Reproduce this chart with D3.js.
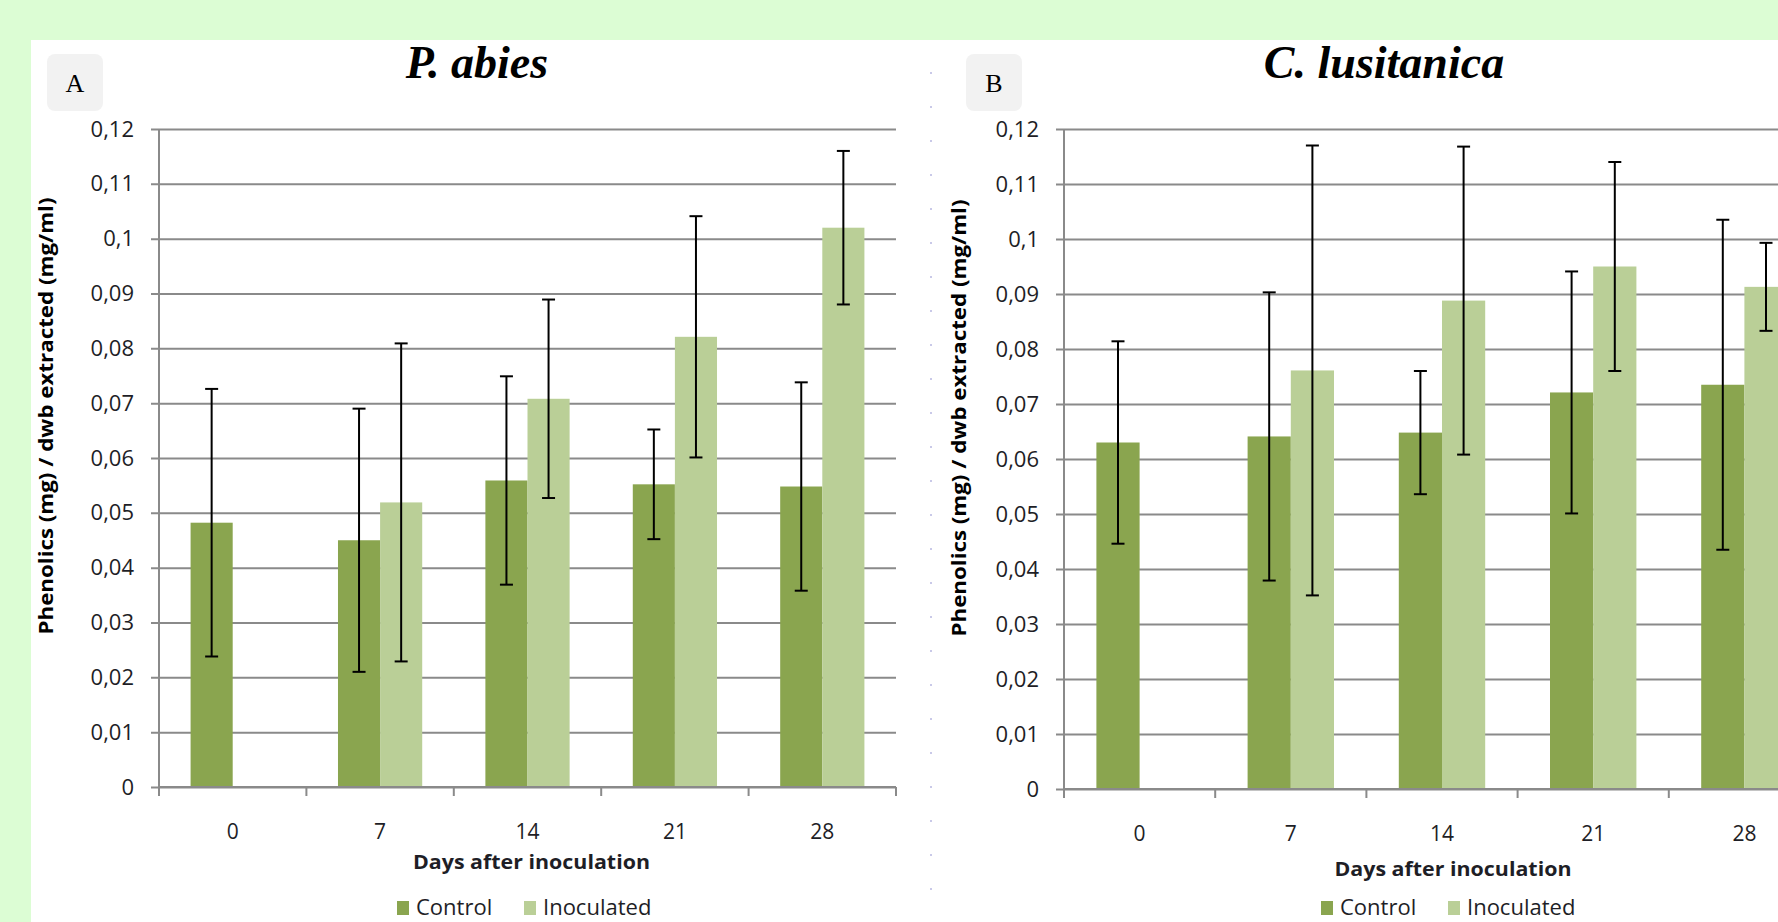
<!DOCTYPE html>
<html><head><meta charset="utf-8">
<script src="https://cdn.jsdelivr.net/npm/d3@7"></script>
<style>html,body{margin:0;padding:0;background:#dcfdd4;overflow:hidden}</style>
</head><body>
<svg id="chart" width="1778" height="922"></svg>
<script>
// ---- data ----
const days = ["0", "7", "14", "21", "28"];
const seriesNames = ["Control", "Inoculated"];
const yTicks = [0, 0.01, 0.02, 0.03, 0.04, 0.05, 0.06, 0.07, 0.08, 0.09, 0.10, 0.11, 0.12];
const yTickLabels = ["0", "0,01", "0,02", "0,03", "0,04", "0,05", "0,06", "0,07", "0,08", "0,09", "0,1", "0,11", "0,12"];
const abiesControl = [0.0482, 0.0450, 0.0559, 0.0552, 0.0548];
const abiesControlErr = [0.0244, 0.0240, 0.0190, 0.0100, 0.0190];
const abiesInoculated = [null, 0.0519, 0.0708, 0.0821, 0.1020];
const abiesInoculatedErr = [null, 0.0290, 0.0181, 0.0220, 0.0140];
const lusControl = [0.0630, 0.0641, 0.0648, 0.0721, 0.0735];
const lusControlErr = [0.0184, 0.0262, 0.0112, 0.0220, 0.0300];
const lusInoculated = [null, 0.0761, 0.0888, 0.0950, 0.0913];
const lusInoculatedErr = [null, 0.0409, 0.0280, 0.0190, 0.0080];
const panelTitles = ["P. abies", "C. lusitanica"];
const panelLetters = ["A", "B"];
const xTitle = "Days after inoculation";
const yTitle = "Phenolics (mg) / dwb extracted (mg/ml)";

// ---- style ----
const colors = { Control: "#8aa54f", Inoculated: "#bacf97" };
const gridColor = "#8a8a8a";
const textColor = "#1e1e26";
const sansFont = "'Open Sans', 'Noto Sans', sans-serif";
const serifFont = "'Liberation Serif', 'DejaVu Serif', serif";

const svg = d3.select("#chart");
svg.append("rect").attr("x", 0).attr("y", 0).attr("width", 1778).attr("height", 922).attr("fill", "#dcfdd4");
svg.append("rect").attr("x", 31).attr("y", 40).attr("width", 1747).attr("height", 882).attr("fill", "#ffffff");

// faint dotted separator
svg.append("line").attr("x1", 931).attr("x2", 931).attr("y1", 72).attr("y2", 905)
  .attr("stroke", "#c9c9e8").attr("stroke-width", 2).attr("stroke-dasharray", "2,32");

const panels = [
  { left: 159, right: 896, top: 129, bottom: 787, boxX: 47, titleX: 477, yTitleX: 46,
    legendX: 397, control: abiesControl, controlErr: abiesControlErr,
    inoc: abiesInoculated, inocErr: abiesInoculatedErr },
  { left: 1064, right: 1820, top: 129, bottom: 789, boxX: 966, titleX: 1384, yTitleX: 959,
    legendX: 1321, control: lusControl, controlErr: lusControlErr,
    inoc: lusInoculated, inocErr: lusInoculatedErr }
];

panels.forEach((p, pi) => {
  const g = svg.append("g");
  const x = d3.scaleBand().domain(days).range([p.left, p.right]).paddingInner(0).paddingOuter(0);
  const xs = d3.scaleBand().domain(seriesNames).range([0, x.bandwidth()]).paddingInner(0).paddingOuter(0.75);
  const y = d3.scaleLinear().domain([0, 0.12]).range([p.bottom, p.top]);

  // y axis with gridlines
  const yAxis = g.append("g").attr("transform", `translate(${p.left},0)`)
    .call(d3.axisLeft(y).tickValues(yTicks).tickFormat((d, i) => yTickLabels[i])
      .tickSizeInner(-(p.right - p.left)).tickSizeOuter(0).tickPadding(25));
  yAxis.select(".domain").remove();
  yAxis.selectAll(".tick line").attr("x1", -8).attr("stroke", gridColor).attr("stroke-width", 2);
  yAxis.selectAll(".tick text").attr("fill", textColor).attr("font-family", sansFont).attr("font-size", 22);

  // bars
  const rows = days.map((d, i) => [
    { day: d, s: "Control", v: p.control[i], e: p.controlErr[i] },
    { day: d, s: "Inoculated", v: p.inoc[i], e: p.inocErr[i] }
  ]).flat().filter(r => r.v != null);

  g.append("g").selectAll("rect").data(rows).join("rect")
    .attr("x", r => x(r.day) + xs(r.s))
    .attr("width", xs.bandwidth())
    .attr("y", r => y(r.v))
    .attr("height", r => y(0) - y(r.v))
    .attr("fill", r => colors[r.s]);

  // axis lines
  g.append("line").attr("x1", p.left).attr("x2", p.left).attr("y1", y(0.12)).attr("y2", y(0))
    .attr("stroke", gridColor).attr("stroke-width", 2);
  g.append("line").attr("x1", p.left).attr("x2", p.right).attr("y1", y(0)).attr("y2", y(0))
    .attr("stroke", gridColor).attr("stroke-width", 2);
  // x ticks at category boundaries
  const bounds = days.map(d => x(d)).concat([x(days[days.length - 1]) + x.step()]);
  g.append("g").selectAll("line").data(bounds).join("line")
    .attr("x1", b => b).attr("x2", b => b).attr("y1", y(0)).attr("y2", y(0) + 9)
    .attr("stroke", gridColor).attr("stroke-width", 2);

  // x labels
  const xAxis = g.append("g").attr("transform", `translate(0,${y(0)})`)
    .call(d3.axisBottom(x).tickSize(0).tickPadding(37));
  xAxis.select(".domain").remove();
  xAxis.selectAll(".tick text").attr("fill", textColor).attr("font-family", sansFont).attr("font-size", 21);

  // error bars
  const eg = g.append("g").attr("stroke", "#000").attr("stroke-width", 2);
  rows.forEach(r => {
    const cx = x(r.day) + xs(r.s) + xs.bandwidth() / 2;
    const y1 = y(r.v + r.e), y2 = y(r.v - r.e);
    eg.append("line").attr("x1", cx).attr("x2", cx).attr("y1", y1).attr("y2", y2);
    eg.append("line").attr("x1", cx - 6.5).attr("x2", cx + 6.5).attr("y1", y1).attr("y2", y1);
    eg.append("line").attr("x1", cx - 6.5).attr("x2", cx + 6.5).attr("y1", y2).attr("y2", y2);
  });

  // x title
  g.append("text").attr("x", (p.left + Math.min(p.right, 1820)) / 2 + (pi === 0 ? 4 : 11))
    .attr("y", pi === 0 ? 869 : 876).attr("text-anchor", "middle")
    .attr("font-family", sansFont).attr("font-weight", 700).attr("font-size", 20)
    .attr("fill", textColor).attr("textLength", 237).attr("lengthAdjust", "spacingAndGlyphs")
    .text(xTitle);

  // y title
  const ym = (p.top + p.bottom) / 2 + (pi === 0 ? -42 : -41);
  g.append("text").attr("transform", `translate(${p.yTitleX},${ym}) rotate(-90)`)
    .attr("text-anchor", "middle").attr("dy", "0.35em")
    .attr("font-family", sansFont).attr("font-weight", 700).attr("font-size", 19)
    .attr("fill", "#000").attr("textLength", 437).attr("lengthAdjust", "spacingAndGlyphs")
    .text(yTitle);

  // panel title
  g.append("text").attr("x", p.titleX).attr("y", 78).attr("text-anchor", "middle")
    .attr("font-family", serifFont).attr("font-style", "italic").attr("font-weight", 700)
    .attr("font-size", 46).attr("fill", "#000").text(panelTitles[pi]);

  // letter box
  g.append("rect").attr("x", p.boxX).attr("y", 54).attr("width", 56).attr("height", 57)
    .attr("rx", 8).attr("fill", "#f2f2f2");
  g.append("text").attr("x", p.boxX + 28).attr("y", 92).attr("text-anchor", "middle")
    .attr("font-family", serifFont).attr("font-size", 26).attr("fill", "#000").text(panelLetters[pi]);

  // legend
  const lg = g.append("g").attr("transform", `translate(${p.legendX},0)`);
  const lx = [0, 127];
  seriesNames.forEach((s, i) => {
    lg.append("rect").attr("x", lx[i]).attr("y", 901).attr("width", 12).attr("height", 14).attr("fill", colors[s]);
    lg.append("text").attr("x", lx[i] + 19).attr("y", 915)
      .attr("font-family", sansFont).attr("font-size", 22).attr("fill", textColor).text(s);
  });
});
</script>
</body></html>
